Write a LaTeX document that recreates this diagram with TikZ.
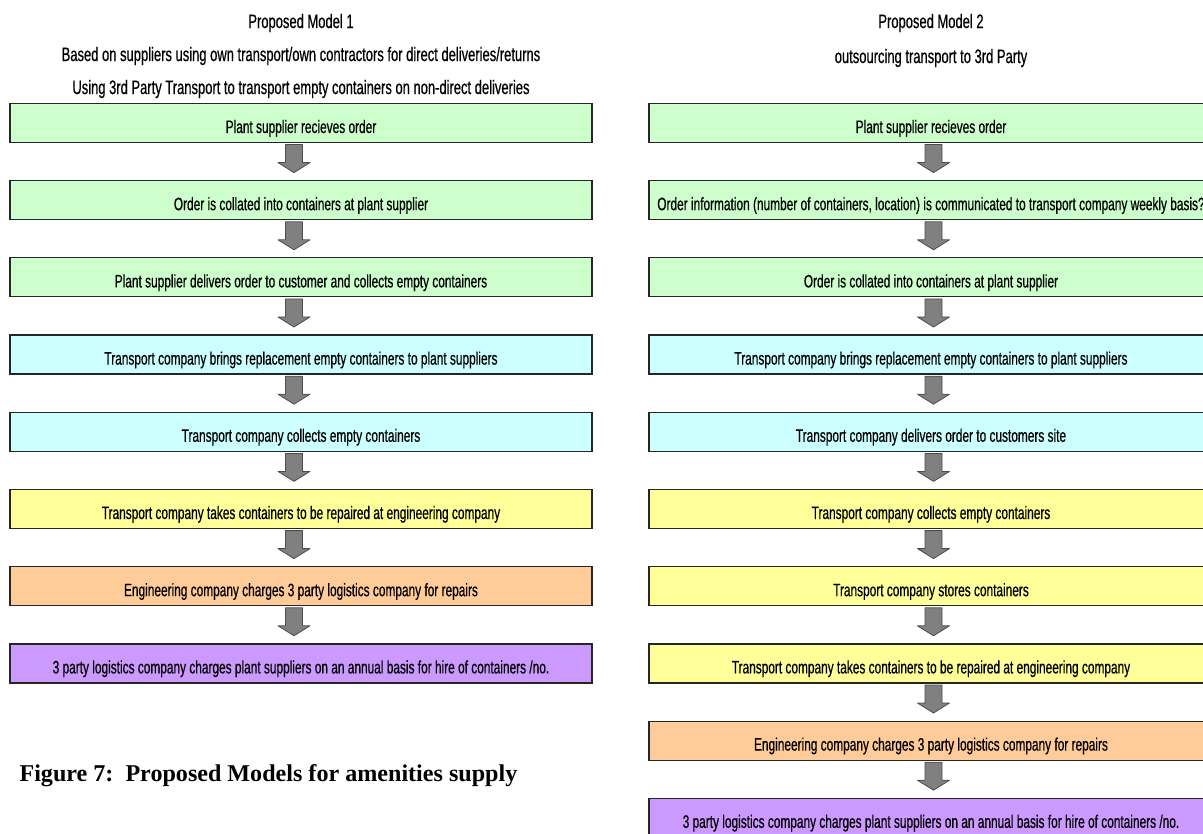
\documentclass[tikz,border=0pt]{standalone}
\usepackage{fontspec}
\setmainfont{Liberation Sans}[FakeStretch=0.66, FakeBold=0.5]
\newfontfamily\headfont{Liberation Sans}[FakeStretch=0.665, FakeBold=0.5]
\newfontfamily\captionfont{Liberation Serif}
\usetikzlibrary{calc}

\definecolor{stepgreen}{HTML}{CCFFCC}
\definecolor{stepcyan}{HTML}{CCFFFF}
\definecolor{stepyellow}{HTML}{FFFF99}
\definecolor{steporange}{HTML}{FFCC99}
\definecolor{steppurple}{HTML}{CC99FF}

\tikzset{
	stepbox/.style={draw=black!85, line width=1.2pt, rectangle, inner sep=0pt,
		minimum height=39pt, text height=20pt, text depth=0pt,
		font=\fontsize{18}{20}\selectfont},
	arrow body/.style={draw=black!70, fill=black!50, line width=0.8pt, line join=round},
	heading/.style={font=\headfont\fontsize{19.5}{21}\selectfont},
	pics/flowarrow/.style={code={
		\draw [arrow body] (-8.5,-17) -- (8.5,-17) -- (8.5,1) -- (16,1) -- (0,11)
			-- (-16,1) -- (-8.5,1) -- cycle;
	}}
}

\begin{document}
\begin{tikzpicture}[x=1pt, y=-1pt]

		\useasboundingbox (0,0) rectangle (1203,834);

		% headings
		\node [heading] (head1-1) at (301,23) {Proposed Model 1};
		\node [heading] (head1-2) at (301,56) {Based on suppliers using own transport/own contractors for direct deliveries/returns};
		\node [heading] (head1-3) at (301,89) {Using 3rd Party Transport to transport empty containers on non-direct deliveries};
		\node [heading] (head2-1) at (931,23) {Proposed Model 2};
		\node [heading] (head2-2) at (931,58) {outsourcing transport to 3rd Party};

		% model 1 steps
		\foreach \c/\t [count=\y] in {
			stepgreen/{Plant supplier recieves order},
			stepgreen/{Order is collated into containers at plant supplier},
			stepgreen/{Plant supplier delivers order to customer and collects empty containers},
			stepcyan/{Transport company brings replacement empty containers to plant suppliers},
			stepcyan/{Transport company collects empty containers},
			stepyellow/{Transport company takes containers to be repaired at engineering company},
			steporange/{Engineering company charges 3 party logistics company for repairs},
			steppurple/{3 party logistics company charges plant suppliers on an annual basis for hire of containers /no.}}
		\node [stepbox, fill=\c, minimum width=582pt] (model1-\y) at (301,123+77.2*\y-77.2) {\t};

		% model 2 steps
		\foreach \c/\t [count=\y] in {
			stepgreen/{Plant supplier recieves order},
			stepgreen/{Order information (number of containers, location) is communicated to transport company weekly basis?},
			stepgreen/{Order is collated into containers at plant supplier},
			stepcyan/{Transport company brings replacement empty containers to plant suppliers},
			stepcyan/{Transport company delivers order to customers site},
			stepyellow/{Transport company collects empty containers},
			stepyellow/{Transport company stores containers},
			stepyellow/{Transport company takes containers to be repaired at engineering company},
			steporange/{Engineering company charges 3 party logistics company for repairs},
			steppurple/{3 party logistics company charges plant suppliers on an annual basis for hire of containers /no.}}
		\node [stepbox, fill=\c, minimum width=564pt] (model2-\y) at (931,123+77.2*\y-77.2) {\t};

		% arrows model 1
		\foreach \i [evaluate=\i as \j using int(\i+1)] in {1,...,7}
			\pic at ($(model1-\i.south)!0.5!(model1-\j.north)+(-7,0)$) {flowarrow};

		% arrows model 2
		\foreach \i [evaluate=\i as \j using int(\i+1)] in {1,...,9}
			\pic at ($(model2-\i.south)!0.5!(model2-\j.north)+(2.5,0)$) {flowarrow};

		% caption
		\node [anchor=west, font=\captionfont\bfseries\fontsize{24.1}{26}\selectfont] (caption) at (16,776)
			{Figure 7:\ \ Proposed Models for amenities supply};

\end{tikzpicture}
\end{document}
